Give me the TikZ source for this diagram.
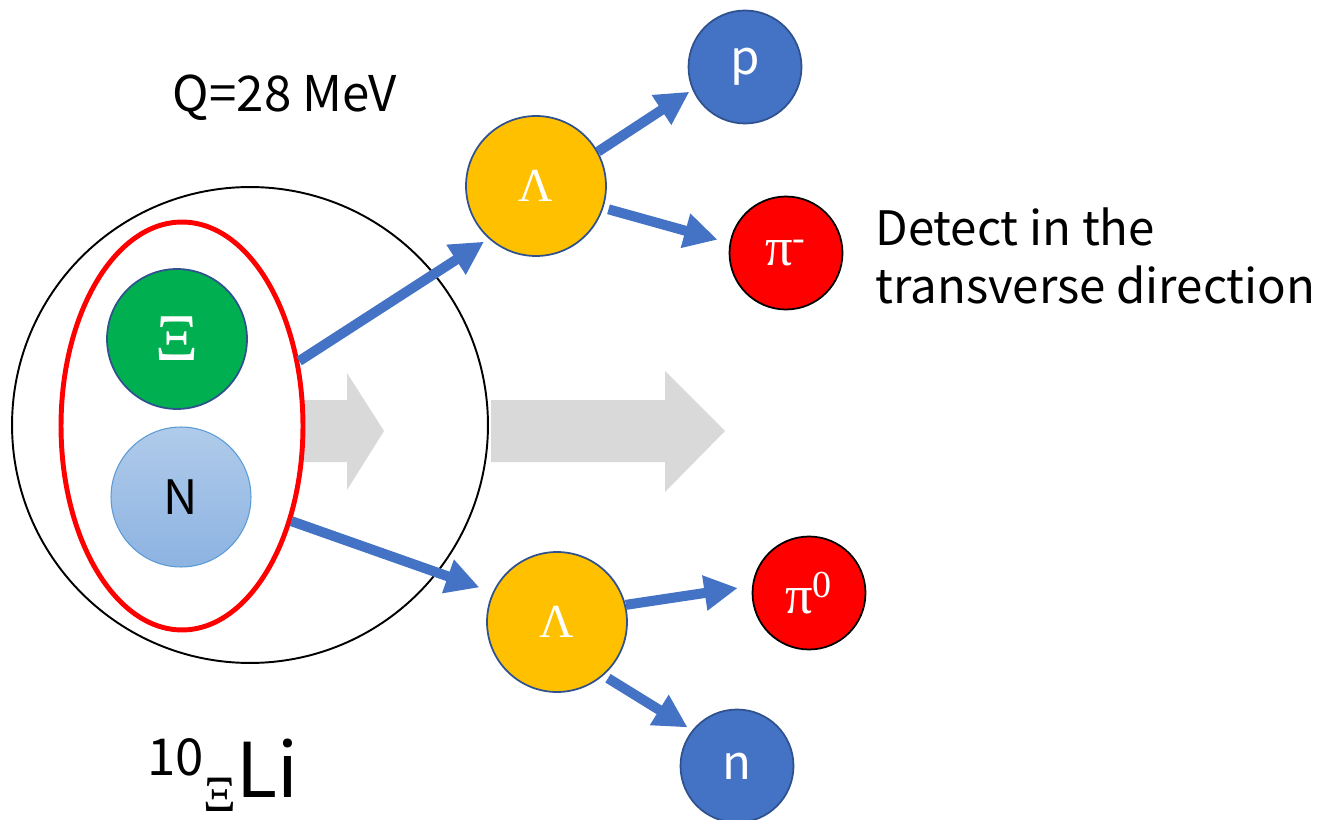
\documentclass[tikz,border=0pt]{standalone}
\usepackage{fontspec}
\setmainfont{Noto Sans CJK JP}
\newfontfamily\grk{Liberation Serif}
\usetikzlibrary{shapes.geometric,arrows.meta}
\definecolor{ablue}{HTML}{4472C4}
\definecolor{aborder}{HTML}{2F528F}
\definecolor{agreen}{HTML}{00B050}
\definecolor{ayellow}{HTML}{FFC000}
\definecolor{ared}{HTML}{FF0000}
\definecolor{agray}{HTML}{D9D9D9}
\definecolor{ntop}{HTML}{B0CBEA}
\definecolor{nbot}{HTML}{8DB3E2}
\definecolor{nborder}{HTML}{5B9BD5}
\begin{document}
\begin{tikzpicture}[x=0.02cm,y=-0.02cm,
  particle/.style={circle, draw=aborder, line width=1pt, inner sep=0pt, text=white},
  bigp/.style={particle, minimum size=2.8cm},
  smallp/.style={particle, minimum size=2.26cm},
  pion/.style={smallp, draw=black, fill=ared},
  flow/.style={draw=ablue, line width=5.7pt, -{Triangle[length=19pt,width=19pt]}},
  grayarrow/.style={fill=agray, draw=none},
  sanslabel/.style={font=\fontsize{27pt}{33pt}\selectfont, inner sep=0pt},
  greeklabel/.style={font=\grk\fontsize{27pt}{30pt}\selectfont},
  pionlabel/.style={font=\grk\fontsize{31pt}{33pt}\selectfont}
]
\useasboundingbox (0,0) rectangle (1317,820);

% nucleus
\node[circle, draw=black, line width=1.1pt, minimum size=9.52cm, inner sep=0pt] (nuc) at (250,425) {};

% gray arrows
\fill[grayarrow] (303,400) -- (347,400) -- (347,373) -- (384,431) -- (347,490) -- (347,462) -- (303,462) -- cycle;
\fill[grayarrow] (491,400) -- (665,400) -- (665,371) -- (725,431) -- (665,492) -- (665,462) -- (491,462) -- cycle;

% red ellipse
\node[ellipse, draw=ared, line width=2.8pt, minimum width=4.84cm, minimum height=8.16cm, inner sep=0pt] (ell) at (182,426) {};

% particles
\node[bigp, fill=agreen, font=\grk\fontsize{38pt}{40pt}\selectfont] (xi) at (177,339) {Ξ};
\node[circle, draw=nborder, line width=0.6pt, top color=ntop, bottom color=nbot, minimum size=2.8cm, inner sep=0pt, sanslabel, text=black] (N) at (181,497) {N};
\node[bigp, fill=ayellow, greeklabel] (laT) at (536,186) {Λ};
\node[bigp, fill=ayellow, greeklabel] (laB) at (557,622) {Λ};
\node[smallp, fill=ablue, sanslabel] (p) at (745,67) {p};
\node[smallp, fill=ablue, sanslabel] (n) at (737,766) {n};
\node[pion, pionlabel] (pim) at (786,253) {π\textsuperscript{-}};
\node[pion, pionlabel] (pi0) at (809,593) {π\textsuperscript{0}};

% decay arrows
\draw[flow] (ell.29) -- ([shift={(227:3pt)}]laT.227);
\draw[flow] (laT.29) -- ([shift={(204:2pt)}]p.204);
\draw[flow, shorten <=3pt] (laT.342) -- ([shift={(169:7pt)}]pim.169);
\draw[flow] (ell.319) -- ([shift={(156:8pt)}]laB.156);
\draw[flow] (laB.14) -- ([shift={(176:8pt)}]pi0.176);
\draw[flow, shorten <=3pt] (laB.311) -- ([shift={(142:3pt)}]n.142);

% texts
\node[sanslabel, anchor=center, font=\fontsize{28pt}{33pt}\selectfont] (q) at (285,98) {Q=28 MeV};
\node[sanslabel, anchor=west, align=left] (det) at (875,256) {Detect in the\\transverse direction};
\node[inner sep=0pt, anchor=base west] (li) at (147,797) {\fontsize{29pt}{30pt}\selectfont\raisebox{12pt}{10}{\grk\raisebox{-8pt}{Ξ}}\fontsize{43pt}{45pt}\selectfont Li};
\end{tikzpicture}
\end{document}
